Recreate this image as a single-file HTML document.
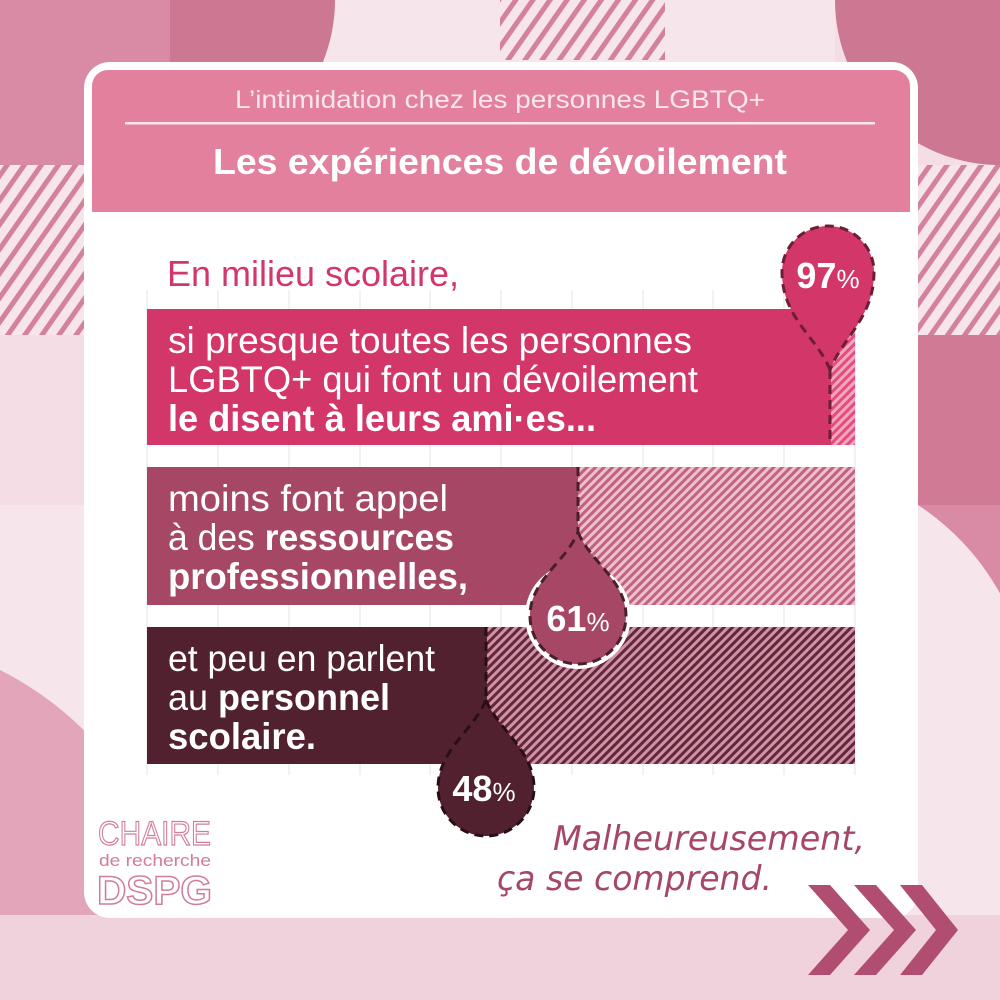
<!DOCTYPE html>
<html><head><meta charset="utf-8"><style>
html,body{margin:0;padding:0;background:#f6e5eb;}
svg{display:block;}
</style></head><body>
<svg width="1000" height="1000" viewBox="0 0 1000 1000" xmlns="http://www.w3.org/2000/svg" font-family="Liberation Sans, sans-serif">
<defs>
<pattern id="hb" width="14" height="14" patternUnits="userSpaceOnUse" patternTransform="rotate(35)"><rect width="14" height="14" fill="#f6e5eb"/><rect width="5" height="14" fill="#d4819c"/></pattern>
<pattern id="h1" width="6" height="6" patternUnits="userSpaceOnUse" patternTransform="rotate(45)"><rect width="6" height="6" fill="#f0a8be"/><rect width="3" height="6" fill="#e64b7d"/></pattern>
<pattern id="h2" width="6" height="6" patternUnits="userSpaceOnUse" patternTransform="rotate(45)"><rect width="6" height="6" fill="#edc0ce"/><rect width="3" height="6" fill="#c1627f"/></pattern>
<pattern id="h3" width="6" height="6" patternUnits="userSpaceOnUse" patternTransform="rotate(45)"><rect width="6" height="6" fill="#d690a6"/><rect width="3" height="6" fill="#5c2a3a"/></pattern>
</defs>
<rect width="1000" height="1000" fill="#f6e5eb"/>
<path d="M0 0 H170 V165 A170 170 0 0 1 0 335 Z" fill="#d98aa5"/>
<rect x="0" y="165" width="85" height="170" fill="url(#hb)"/>
<rect x="0" y="335" width="85" height="170" fill="#f4dde5"/>
<path d="M170 0 H335 A165 165 0 0 1 170 165 Z" fill="#cd7893"/>
<rect x="500" y="0" width="165" height="60" fill="url(#hb)"/>
<path d="M835 0 H1000 V165 H835 Z" fill="#f4dde5"/>
<path d="M835 0 A165 165 0 0 0 1000 165 V0 Z" fill="#cd7893"/>
<rect x="918" y="165" width="82" height="170" fill="url(#hb)"/>
<rect x="918" y="335" width="82" height="170" fill="#d07a96"/>
<path d="M918 505 H1000 V835 A250 250 0 0 0 918 505 Z" fill="#d98aa5"/>
<path d="M0 670 A330 330 0 0 1 180 1000 H0 Z" fill="#e3a5b9"/>
<rect x="0" y="915" width="1000" height="85" fill="#f0d2dc"/>
<rect x="84" y="62" width="834" height="856" rx="26" fill="#ffffff"/>
<rect x="92" y="70" width="818" height="142" rx="16" fill="#e2809e"/>
<rect x="92" y="150" width="818" height="62" fill="#e2809e"/>
<text x="235" y="108" font-size="25" fill="#fbe6ee" textLength="530" lengthAdjust="spacingAndGlyphs">L’intimidation chez les personnes LGBTQ+</text>
<rect x="125" y="122" width="750" height="2.5" fill="#fbe6ee"/>
<text x="213" y="174" font-size="36" font-weight="bold" fill="#ffffff" textLength="574" lengthAdjust="spacingAndGlyphs">Les expériences de dévoilement</text>
<g stroke="#eeeef2" stroke-width="1.5">
<line x1="147" y1="290" x2="147" y2="775"/><line x1="218" y1="290" x2="218" y2="775"/><line x1="289" y1="290" x2="289" y2="775"/><line x1="360" y1="290" x2="360" y2="775"/><line x1="430" y1="290" x2="430" y2="775"/><line x1="501" y1="290" x2="501" y2="775"/><line x1="572" y1="290" x2="572" y2="775"/><line x1="643" y1="290" x2="643" y2="775"/><line x1="713" y1="290" x2="713" y2="775"/><line x1="784" y1="290" x2="784" y2="775"/><line x1="855" y1="290" x2="855" y2="775"/>
</g>
<text x="167" y="286" font-size="36" fill="#d33668" textLength="292" lengthAdjust="spacingAndGlyphs">En milieu scolaire,</text>
<rect x="147" y="309" width="708" height="136" fill="url(#h1)"/>
<rect x="147" y="309" width="684" height="136" fill="#d33668"/>
<rect x="147" y="467" width="708" height="138" fill="url(#h2)"/>
<rect x="147" y="467" width="431" height="138" fill="#a64765"/>
<rect x="147" y="627" width="708" height="137" fill="url(#h3)"/>
<rect x="147" y="627" width="340" height="137" fill="#52212f"/>
<g font-size="37" fill="#ffffff">
<text x="168" y="353" textLength="524" lengthAdjust="spacingAndGlyphs">si presque toutes les personnes</text>
<text x="168" y="392" textLength="530" lengthAdjust="spacingAndGlyphs">LGBTQ+ qui font un dévoilement</text>
<text x="168" y="431" font-weight="bold" textLength="428" lengthAdjust="spacingAndGlyphs">le disent à leurs ami·es...</text>
<text x="168" y="511" textLength="280" lengthAdjust="spacingAndGlyphs">moins font appel</text>
<text x="168" y="550" textLength="286" lengthAdjust="spacingAndGlyphs">à des <tspan font-weight="bold">ressources</tspan></text>
<text x="168" y="589" font-weight="bold" textLength="300" lengthAdjust="spacingAndGlyphs">professionnelles,</text>
<text x="168" y="671" textLength="267" lengthAdjust="spacingAndGlyphs">et peu en parlent</text>
<text x="168" y="710" textLength="222" lengthAdjust="spacingAndGlyphs">au <tspan font-weight="bold">personnel</tspan></text>
<text x="168" y="749" font-weight="bold" textLength="148" lengthAdjust="spacingAndGlyphs">scolaire.</text>
</g>
<path d="M830 370 C818 338 782 318 782 272 A46 46 0 1 1 874 272 C874 318 842 338 830 370 Z" fill="#d33668" stroke="#6a1f36" stroke-width="3" stroke-dasharray="9 6"/>
<line x1="830" y1="370" x2="830" y2="445" stroke="#6a1f36" stroke-width="3" stroke-dasharray="9 6"/>
<text x="828" y="288" text-anchor="middle" font-size="36" font-weight="bold" fill="#fff">97<tspan font-size="26" font-weight="normal">%</tspan></text>
<circle cx="578" cy="616" r="53" fill="#fff"/>
<path d="M578 532 C590 562 626 580 626 616 A48 48 0 1 1 530 616 C530 580 566 562 578 532 Z" fill="#a64765" stroke="#4a1e2c" stroke-width="3" stroke-dasharray="9 6"/>
<line x1="578" y1="467" x2="578" y2="532" stroke="#4a1e2c" stroke-width="3" stroke-dasharray="9 6"/>
<text x="578" y="631" text-anchor="middle" font-size="36" font-weight="bold" fill="#fff">61<tspan font-size="26" font-weight="normal">%</tspan></text>
<path d="M486 700 C498 730 534 750 534 788 A48 48 0 1 1 438 788 C438 750 474 730 486 700 Z" fill="#52212f" stroke="#2a0e16" stroke-width="3" stroke-dasharray="9 6"/>
<line x1="486" y1="627" x2="486" y2="700" stroke="#2a0e16" stroke-width="3" stroke-dasharray="9 6"/>
<text x="484" y="801" text-anchor="middle" font-size="36" font-weight="bold" fill="#fff">48<tspan font-size="26" font-weight="normal">%</tspan></text>
<text x="98" y="845" font-size="34" fill="none" stroke="#d17d98" stroke-width="1.2" textLength="113" lengthAdjust="spacingAndGlyphs">CHAIRE</text>
<text x="99" y="866" font-size="17" fill="#d17d98" textLength="112" lengthAdjust="spacingAndGlyphs">de recherche</text>
<text x="97" y="904" font-size="40" font-weight="bold" fill="none" stroke="#d17d98" stroke-width="1.5" textLength="115" lengthAdjust="spacingAndGlyphs">DSPG</text>
<g font-family="DejaVu Sans, cursive" fill="#a64765" font-style="italic">
<text x="553" y="850" font-size="34" textLength="312" lengthAdjust="spacingAndGlyphs">Malheureusement,</text>
<text x="497" y="890" font-size="34" textLength="275" lengthAdjust="spacingAndGlyphs">ça se comprend.</text>
</g>
<g fill="#b04d70">
<path d="M808 885 H830 L870 930 L830 975 H808 L848 930 Z"/>
<path d="M854 885 H876 L916 930 L876 975 H854 L894 930 Z"/>
<path d="M900 885 H922 L958 930 L922 975 H900 L936 930 Z"/>
</g>
</svg>
</body></html>
